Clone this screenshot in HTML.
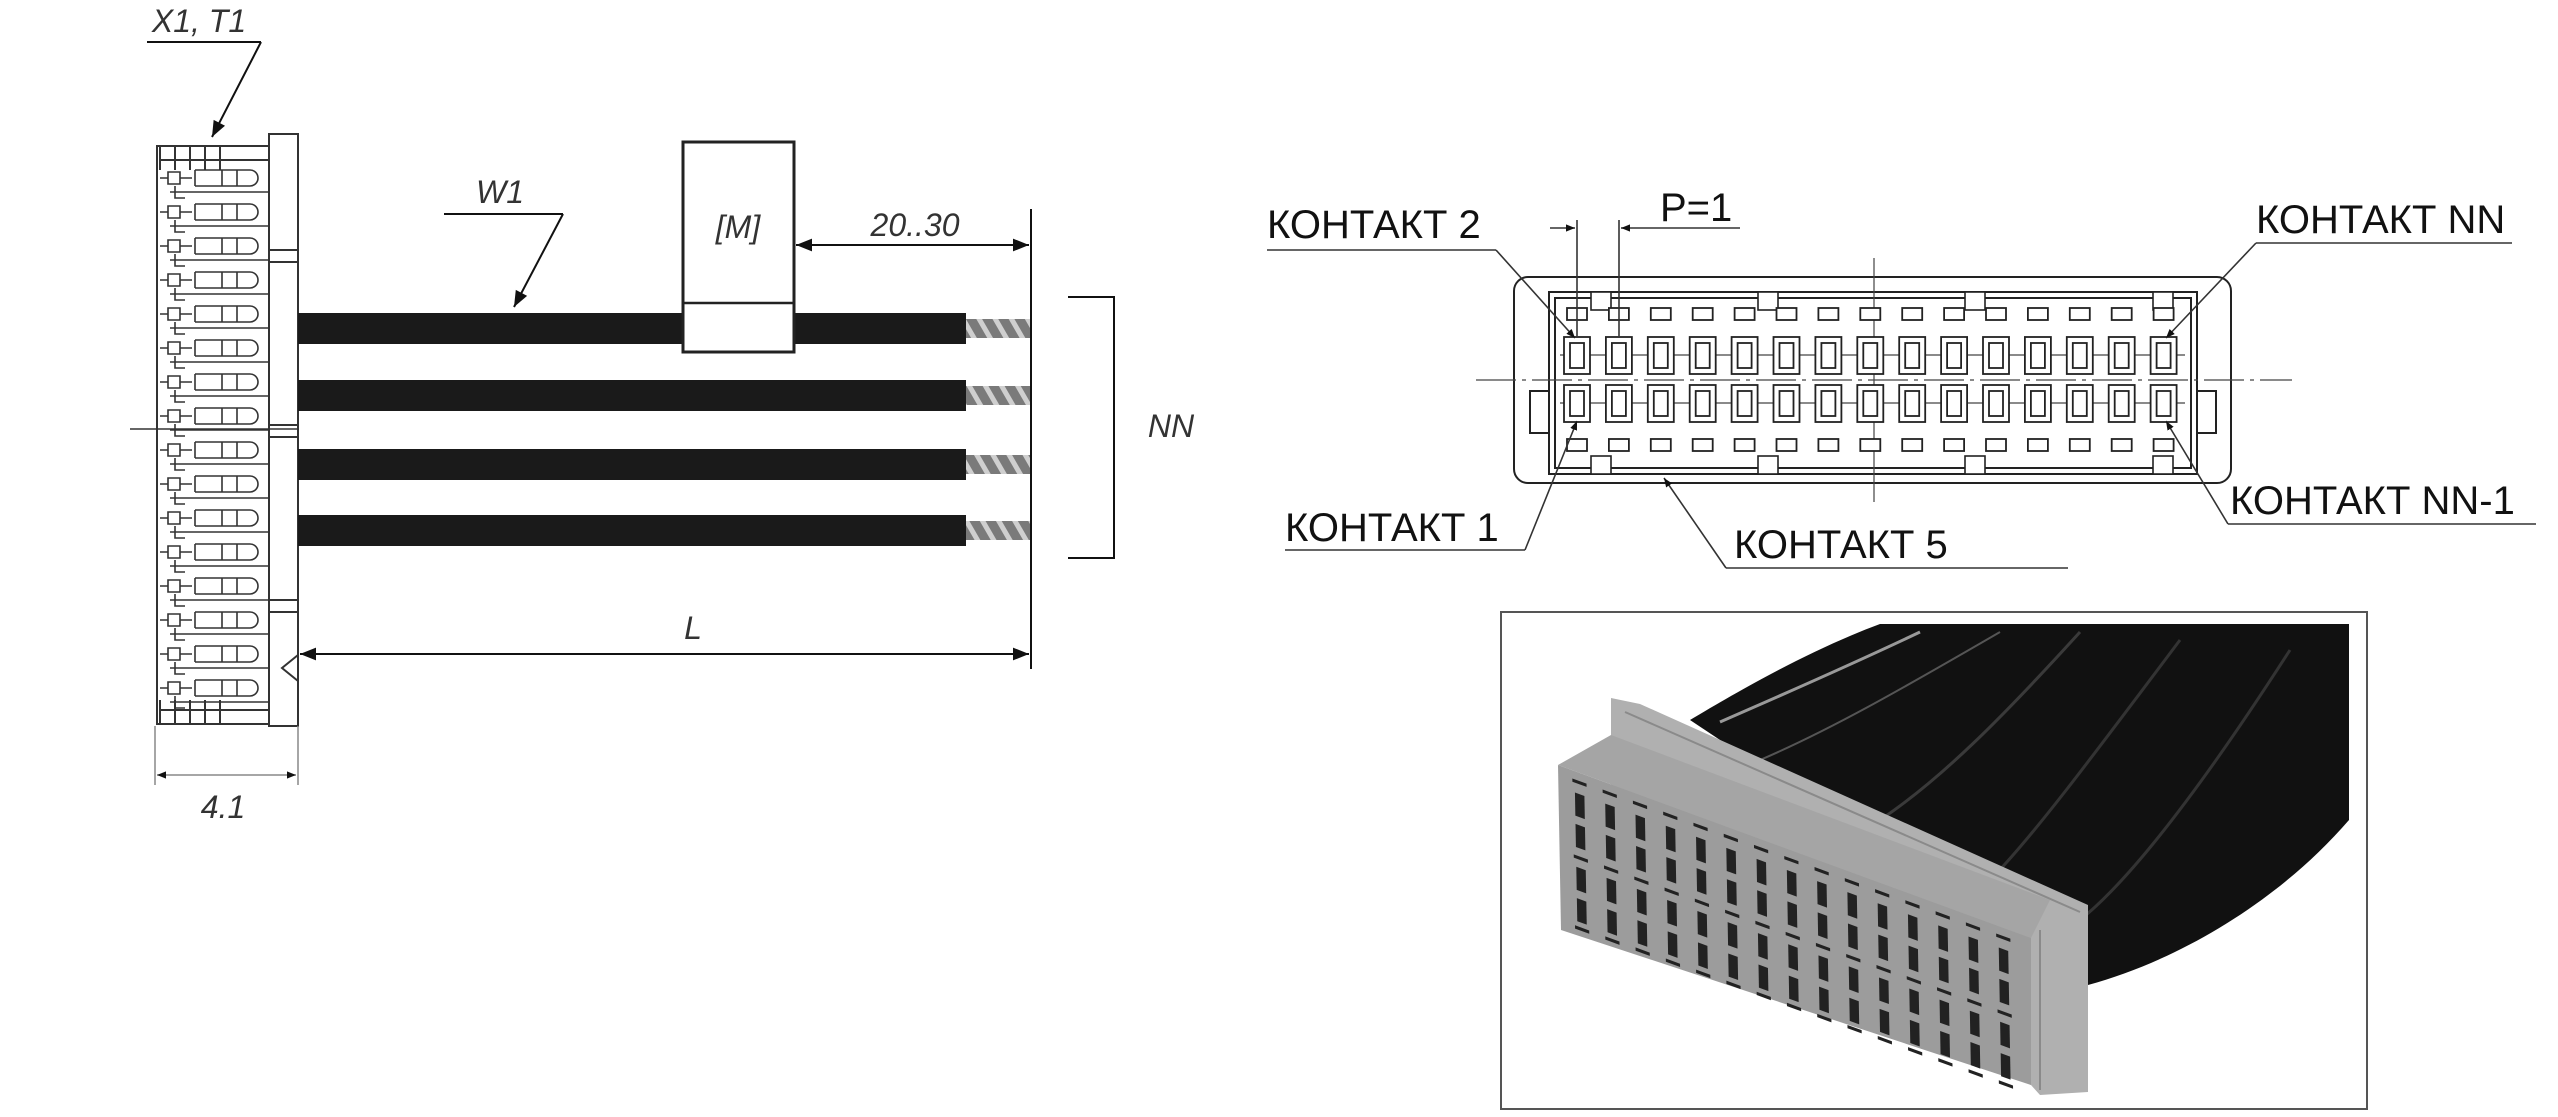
<!DOCTYPE html>
<html><head><meta charset="utf-8"><style>
html,body{margin:0;padding:0;background:#fff;}
svg{display:block;}
.it{font-family:"Liberation Sans",sans-serif;font-style:italic;fill:#333;font-size:32px;}
.k{font-family:"Liberation Sans","Noto Sans CJK SC",sans-serif;fill:#111;font-size:40px;}
</style></head><body>
<svg width="2558" height="1117" viewBox="0 0 2558 1117" xmlns="http://www.w3.org/2000/svg">
<defs>
<marker id="ar" viewBox="0 0 10 10" refX="10" refY="5" markerWidth="9" markerHeight="9" orient="auto-start-reverse" markerUnits="userSpaceOnUse"><path d="M0,1 L10,5 L0,9 z" fill="#111"/></marker>
<marker id="ar2" viewBox="0 0 10 10" refX="10" refY="5" markerWidth="22" markerHeight="16" orient="auto-start-reverse" markerUnits="userSpaceOnUse"><path d="M0,1 L10,5 L0,9 z" fill="#111"/></marker>
<pattern id="hatch" width="14" height="14" patternUnits="userSpaceOnUse" patternTransform="rotate(-30)"><rect width="14" height="14" fill="#7a7a7a"/><rect width="5" height="14" fill="#cfcfcf"/></pattern>
</defs>

<!-- LEFT DRAWING -->
<g stroke="#333" fill="none" stroke-width="2">
  <rect x="157" y="146" width="112" height="578"/>
  <rect x="269" y="134" width="29" height="592" fill="#fff"/>
  <line x1="269" y1="250" x2="298" y2="250"/><line x1="269" y1="262" x2="298" y2="262"/>
  <line x1="269" y1="425" x2="298" y2="425"/><line x1="269" y1="437" x2="298" y2="437"/>
  <line x1="269" y1="600" x2="298" y2="600"/><line x1="269" y1="612" x2="298" y2="612"/>
  <path d="M298,655 L282,668 L298,681"/>
  <path d="M160,146 V170 M175,146 V170 M190,146 V170 M205,146 V170 M220,146 V170 M160,160 H269"/>
  <path d="M160,700 V724 M175,700 V724 M190,700 V724 M205,700 V724 M220,700 V724 M160,710 H269"/>
  <line x1="130" y1="429" x2="298" y2="429" stroke-width="1.5"/>
</g>
<g stroke="#333" fill="none" stroke-width="1.6" id="combs">
  <path d="M160,178 h8 v-6 h12 v12 h-12 v-6 M180,178 h12 M195,170 h55 a8,8 0 0 1 0,16 h-55 M195,170 v16 M222,170 v16 M237,170 v16 M170,192 h99 M175,186 v12 h10"/>
</g>
<g stroke="#333" fill="none" stroke-width="1.6">
  <use href="#combs" y="34"/><use href="#combs" y="68"/><use href="#combs" y="102"/><use href="#combs" y="136"/>
  <use href="#combs" y="170"/><use href="#combs" y="204"/><use href="#combs" y="238"/><use href="#combs" y="272"/>
  <use href="#combs" y="306"/><use href="#combs" y="340"/><use href="#combs" y="374"/><use href="#combs" y="408"/>
  <use href="#combs" y="442"/><use href="#combs" y="476"/><use href="#combs" y="510"/>
</g>

<!-- wires -->
<g fill="#1a1a1a">
  <rect x="298" y="313" width="668" height="31"/>
  <rect x="298" y="380" width="668" height="31"/>
  <rect x="298" y="449" width="668" height="31"/>
  <rect x="298" y="515" width="668" height="31"/>
</g>
<g fill="url(#hatch)">
  <rect x="966" y="319" width="65" height="19"/>
  <rect x="966" y="386" width="65" height="19"/>
  <rect x="966" y="455" width="65" height="19"/>
  <rect x="966" y="521" width="65" height="19"/>
</g>
<rect x="683" y="142" width="111" height="210" fill="#fff" stroke="#222" stroke-width="3"/>
<line x1="683" y1="303" x2="794" y2="303" stroke="#222" stroke-width="2.5"/>
<text x="738" y="238" class="it" text-anchor="middle">[M]</text>

<g stroke="#111" stroke-width="2" fill="none">
  <line x1="1031" y1="209" x2="1031" y2="669"/>
  <line x1="796" y1="245" x2="1029" y2="245" marker-start="url(#ar2)" marker-end="url(#ar2)"/>
  <line x1="300" y1="654" x2="1029" y2="654" marker-start="url(#ar2)" marker-end="url(#ar2)"/>
  <path d="M1068,297 H1114 V558 H1068"/>
  <line x1="147" y1="42" x2="261" y2="42"/>
  <line x1="261" y1="42" x2="212" y2="137" marker-end="url(#ar2)"/>
  <line x1="444" y1="214" x2="563" y2="214"/>
  <line x1="563" y1="214" x2="514" y2="307" marker-end="url(#ar2)"/>
</g>
<g stroke="#888" stroke-width="1.5" fill="none">
  <line x1="155" y1="726" x2="155" y2="785"/><line x1="298" y1="726" x2="298" y2="785"/>
  <line x1="157" y1="775" x2="296" y2="775" marker-start="url(#ar)" marker-end="url(#ar)"/>
</g>
<text x="199" y="32" class="it" text-anchor="middle">X1, T1</text>
<text x="500" y="203" class="it" text-anchor="middle">W1</text>
<text x="915" y="236" class="it" text-anchor="middle">20..30</text>
<text x="1171" y="437" class="it" text-anchor="middle">NN</text>
<text x="693" y="639" class="it" text-anchor="middle">L</text>
<text x="223" y="818" class="it" text-anchor="middle">4.1</text>

<!-- RIGHT DRAWING -->
<g stroke="#222" fill="none" stroke-width="2">
  <rect x="1514" y="277" width="717" height="206" rx="14"/>
  <rect x="1549" y="292" width="648" height="182"/>
  <rect x="1555" y="298" width="636" height="170"/>
  <rect x="1530" y="391" width="19" height="42"/>
  <rect x="2197" y="391" width="19" height="42"/>
</g>
<g stroke="#444" stroke-width="1.2" fill="none">
  <line x1="1476" y1="380" x2="2292" y2="380" stroke-dasharray="40,6,4,6"/>
  <line x1="1874" y1="258" x2="1874" y2="502"/>
  <line x1="1560" y1="355" x2="2185" y2="355"/>
  <line x1="1560" y1="403" x2="2185" y2="403"/>
</g>
<g stroke="#222" stroke-width="1.6" fill="#fff">
  <rect x="1591" y="292" width="20" height="18"/><rect x="1758" y="292" width="20" height="18"/><rect x="1965" y="292" width="20" height="18"/><rect x="2153" y="292" width="20" height="18"/>
  <rect x="1591" y="456" width="20" height="18"/><rect x="1758" y="456" width="20" height="18"/><rect x="1965" y="456" width="20" height="18"/><rect x="2153" y="456" width="20" height="18"/>
</g>
<g stroke="#222" stroke-width="1.8" fill="#fff">
  <g id="c0">
    <rect x="1567" y="308" width="20" height="12"/>
    <rect x="1567" y="439" width="20" height="12"/>
    <rect x="1564" y="337" width="26" height="37"/><rect x="1570" y="343" width="14" height="25"/>
    <rect x="1564" y="385" width="26" height="37"/><rect x="1570" y="391" width="14" height="25"/>
  </g>
  <use href="#c0" x="41.9"/><use href="#c0" x="83.8"/><use href="#c0" x="125.7"/><use href="#c0" x="167.6"/>
  <use href="#c0" x="209.5"/><use href="#c0" x="251.4"/><use href="#c0" x="293.3"/><use href="#c0" x="335.2"/>
  <use href="#c0" x="377.1"/><use href="#c0" x="419"/><use href="#c0" x="460.9"/><use href="#c0" x="502.8"/>
  <use href="#c0" x="544.7"/><use href="#c0" x="586.6"/>
</g>
<g stroke="#333" stroke-width="1.6" fill="none">
  <line x1="1267" y1="250" x2="1496" y2="250"/>
  <line x1="1496" y1="250" x2="1575" y2="338" marker-end="url(#ar)"/>
  <line x1="2256" y1="243" x2="2512" y2="243"/>
  <line x1="2256" y1="243" x2="2166" y2="338" marker-end="url(#ar)"/>
  <line x1="1285" y1="550" x2="1525" y2="550"/>
  <line x1="1525" y1="550" x2="1577" y2="421" marker-end="url(#ar)"/>
  <line x1="1726" y1="568" x2="2068" y2="568"/>
  <line x1="1726" y1="568" x2="1664" y2="478" marker-end="url(#ar)"/>
  <line x1="2228" y1="524" x2="2536" y2="524"/>
  <line x1="2228" y1="524" x2="2166" y2="421" marker-end="url(#ar)"/>
  <line x1="1577" y1="220" x2="1577" y2="336"/>
  <line x1="1619" y1="220" x2="1619" y2="336"/>
  <line x1="1550" y1="228" x2="1575" y2="228" marker-end="url(#ar)"/>
  <line x1="1740" y1="228" x2="1621" y2="228" marker-end="url(#ar)"/>
</g>
<text x="1267" y="238" class="k">КОНТАКТ 2</text>
<text x="1660" y="221" class="k">P=1</text>
<text x="2256" y="233" class="k">КОНТАКТ NN</text>
<text x="1285" y="541" class="k">КОНТАКТ 1</text>
<text x="1734" y="558" class="k">КОНТАКТ 5</text>
<text x="2230" y="514" class="k">КОНТАКТ NN-1</text>

<!-- PHOTO -->
<rect x="1501" y="612" width="866" height="497" fill="#fff" stroke="#555" stroke-width="2"/>
<path d="M1880,624 L2349,624 L2349,820 C2280,900 2180,960 2088,985 L1690,720 C1740,690 1810,650 1880,624 Z" fill="#111"/>
<path d="M1920,632 C1840,670 1770,700 1720,722" stroke="#999" stroke-width="3" fill="none"/>
<path d="M2000,632 C1900,690 1830,730 1760,760" stroke="#555" stroke-width="2" fill="none"/>
<path d="M2080,632 C2000,720 1940,780 1880,820" stroke="#3a3a3a" stroke-width="3" fill="none"/>
<path d="M2180,640 C2090,760 2030,840 1990,880" stroke="#333" stroke-width="3" fill="none"/>
<path d="M2290,650 C2200,790 2130,880 2080,920" stroke="#333" stroke-width="3" fill="none"/>
<!-- flange -->
<path d="M1611,698 L1640,704 L2088,905 L2088,1092 L2040,1095 L2031,1085 L1611,900 Z" fill="#b0b0b0"/>
<path d="M1625,712 L2080,912" stroke="#8a8a8a" stroke-width="2"/>
<path d="M2040,930 L2040,1090" stroke="#8a8a8a" stroke-width="2"/>
<!-- top surface -->
<path d="M1558,765 L1611,735 L2050,900 L2031,938 Z" fill="#a5a5a5"/>
<!-- front face -->
<path d="M1558,765 L2031,938 L2031,1085 L1561,930 Z" fill="#9c9c9c"/>
<g transform="matrix(4.73,1.73,0.03,1.65,1558,765)" fill="#222">
  <g id="hc">
    <rect x="3" y="5" width="3" height="2"/>
    <rect x="3.5" y="13" width="2" height="14"/>
    <rect x="3.5" y="32" width="2" height="14"/>
    <rect x="3" y="51" width="3" height="2"/>
    <rect x="3.5" y="58" width="2" height="14"/>
    <rect x="3.5" y="77" width="2" height="14"/>
    <rect x="3" y="94" width="3" height="2"/>
  </g>
  <use href="#hc" x="6.4"/><use href="#hc" x="12.8"/><use href="#hc" x="19.2"/><use href="#hc" x="25.6"/>
  <use href="#hc" x="32"/><use href="#hc" x="38.4"/><use href="#hc" x="44.8"/><use href="#hc" x="51.2"/>
  <use href="#hc" x="57.6"/><use href="#hc" x="64"/><use href="#hc" x="70.4"/><use href="#hc" x="76.8"/>
  <use href="#hc" x="83.2"/><use href="#hc" x="89.6"/>
</g>
</svg>
</body></html>
